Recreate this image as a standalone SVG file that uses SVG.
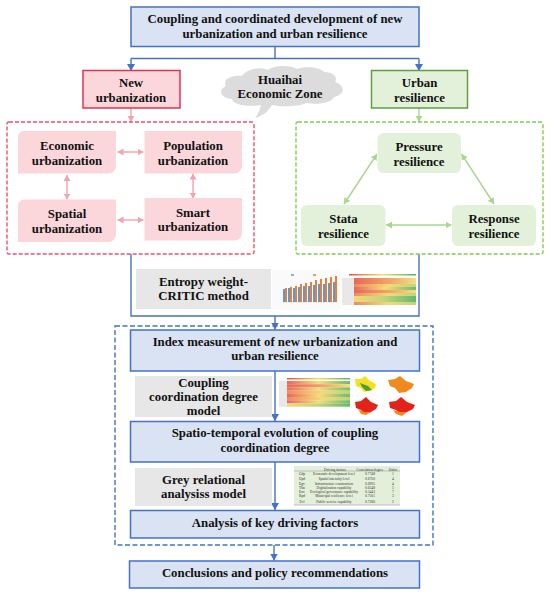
<svg xmlns="http://www.w3.org/2000/svg" width="550" height="596" viewBox="0 0 550 596">
<defs>
<marker id="ab" markerUnits="userSpaceOnUse" markerWidth="8" markerHeight="8" refX="7" refY="4" orient="auto"><path d="M0,0L7,4L0,8z" fill="#4472c4"/></marker>
<marker id="ap" markerUnits="userSpaceOnUse" markerWidth="7" markerHeight="7" refX="6" refY="3.5" orient="auto-start-reverse"><path d="M0,0L6,3.500L0,7z" fill="#f4a3ae"/></marker>
<marker id="ag" markerUnits="userSpaceOnUse" markerWidth="7" markerHeight="7" refX="6" refY="3.5" orient="auto-start-reverse"><path d="M0,0L6,3.500L0,7z" fill="#a9d78f"/></marker>
<linearGradient id="h1"><stop offset="0" stop-color="#e8685a"/><stop offset=".6" stop-color="#f0a868"/><stop offset="1" stop-color="#f5e07c"/></linearGradient>
<linearGradient id="h2"><stop offset="0" stop-color="#ee8a60"/><stop offset=".55" stop-color="#f5d87a"/><stop offset="1" stop-color="#bcd67a"/></linearGradient>
<linearGradient id="h3"><stop offset="0" stop-color="#f5d87a"/><stop offset=".5" stop-color="#bcd67a"/><stop offset="1" stop-color="#63b86c"/></linearGradient>
<linearGradient id="h4"><stop offset="0" stop-color="#e8685a"/><stop offset=".5" stop-color="#f5dc7c"/><stop offset="1" stop-color="#6fbb70"/></linearGradient>
<linearGradient id="hb"><stop offset="0" stop-color="#e8503f"/><stop offset=".5" stop-color="#f5e05c"/><stop offset="1" stop-color="#55b060"/></linearGradient>
</defs>
<style>
text{font-family:"Liberation Serif",serif;font-size:12.8px;font-weight:700;fill:#111;text-anchor:middle}
text.t{font-size:3.6px;font-weight:400;fill:#333}
.b{fill:#dae3f3;stroke:#4472c4;stroke-width:1.5}
.c{fill:none;stroke:#4472c4;stroke-width:1.4}
.g{fill:#e7e7e7}
.p{fill:#fbd7dc}
.q{fill:#e4f1da}
.cp{fill:none;stroke:#f4a3ae;stroke-width:1.4}
.cg{fill:none;stroke:#a9d78f;stroke-width:1.4}
</style>
<rect width="550" height="596" fill="#fff"/>
<g id="connectors">
<path class="c" d="M275 47V58.500M131 58.500H419"/>
<path class="c" d="M131 58.500V71" marker-end="url(#ab)"/>
<path class="c" d="M419 58.500V71" marker-end="url(#ab)"/>
<path class="c" d="M131 254V316H419V254"/>
<path class="c" d="M275 316V329.500" marker-end="url(#ab)"/>
<path class="c" d="M275 371V421" marker-end="url(#ab)"/>
<path class="c" d="M275 462V510" marker-end="url(#ab)"/>
<path class="c" d="M274 545V560.500" marker-end="url(#ab)"/>
<path class="cp" d="M131 108V122" marker-end="url(#ap)"/>
<path class="cg" d="M419 108V122" marker-end="url(#ag)"/>
<path class="cp" d="M117.500 152H143.500" marker-start="url(#ap)" marker-end="url(#ap)"/>
<path class="cp" d="M117.500 220H143.500" marker-start="url(#ap)" marker-end="url(#ap)"/>
<path class="cp" d="M67 175V199.500" marker-start="url(#ap)" marker-end="url(#ap)"/>
<path class="cp" d="M193 173.500V198.500" marker-start="url(#ap)" marker-end="url(#ap)"/>
<path class="cg" d="M377 154L344 204" marker-start="url(#ag)" marker-end="url(#ag)"/>
<path class="cg" d="M461.500 154L494 204" marker-start="url(#ag)" marker-end="url(#ag)"/>
<path class="cg" d="M386 225H451.500" marker-start="url(#ag)" marker-end="url(#ag)"/>
</g>
<g id="outer-dashed">
<rect x="7" y="122" width="247" height="132" rx="2" fill="none" stroke="#f0506c" stroke-width="1.400" stroke-dasharray="4 2"/>
<rect x="296" y="122" width="247" height="132" rx="2" fill="none" stroke="#84cc52" stroke-width="1.400" stroke-dasharray="4 2"/>
<rect x="115" y="326" width="318" height="219" fill="none" stroke="#4472c4" stroke-width="1.400" stroke-dasharray="5 2.500"/>
</g>
<g id="top"><rect class="b" x="131" y="7" width="288" height="39.500"/><text x="275" y="23">Coupling and coordinated development of new</text><text x="275" y="38">urbanization and urban resilience</text></g>
<g id="new-urbanization"><rect x="83" y="70.500" width="97" height="37.500" fill="#fbd7dc" stroke="#e0354f" stroke-width="1.500"/><text x="131" y="87">New</text><text x="131" y="102">urbanization</text></g>
<g id="urban-resilience"><rect x="371.500" y="70.500" width="96" height="37.500" fill="#e4f1da" stroke="#5f9f3e" stroke-width="1.500"/><text x="419.500" y="87">Urban</text><text x="419.500" y="102">resilience</text></g>
<g id="cloud"><path d="M255 118C258 114 260 110 261 105C246 107 233 105 232 99C221 98 217 90 226 86C222 79 232 75 242 76C247 69 260 66 268 70C274 65 291 65 297 69C305 66 320 67 324 72C334 72 338 78 335 82C346 86 345 95 334 97C332 103 317 105 307 103C297 107 281 107 272 105C268 112 262 116 255 118Z" fill="#dcdcdc"/><text x="280" y="84">Huaihai</text><text x="280" y="98">Economic Zone</text></g>
<g id="economic"><path class="p" d="M18 137a6 6 0 0 1 6-6H116V166a7.500 7.500 0 0 1 -7.500 7.500H18Z"/><text x="67" y="150">Economic</text><text x="67" y="164.500">urbanization</text></g>
<g id="population"><path class="p" d="M144.500 131H242V166a7.500 7.500 0 0 1 -7.500 7.500H144.500Z"/><text x="193" y="150">Population</text><text x="193" y="164.500">urbanization</text></g>
<g id="spatial"><path class="p" d="M18 205.500a6 6 0 0 1 6-6H116V234.500a7.500 7.500 0 0 1 -7.500 7.500H18Z"/><text x="67" y="218">Spatial</text><text x="67" y="232.500">urbanization</text></g>
<g id="smart"><path class="p" d="M144.500 198H242V233a7.500 7.500 0 0 1 -7.500 7.500H144.500Z"/><text x="193" y="216.500">Smart</text><text x="193" y="231">urbanization</text></g>
<g id="pressure"><rect class="q" x="377.500" y="133" width="83.500" height="40" rx="6"/><text x="419" y="151">Pressure</text><text x="419" y="165.500">resilience</text></g>
<g id="stata"><rect class="q" x="301" y="205" width="84.500" height="41" rx="6"/><text x="343.500" y="223">Stata</text><text x="343.500" y="237.500">resilience</text></g>
<g id="response"><rect class="q" x="452" y="205" width="84" height="41" rx="6"/><text x="494" y="223">Response</text><text x="494" y="237.500">resilience</text></g>
<g id="entropy"><rect class="g" x="136" y="269" width="135" height="40"/><text x="203.500" y="285.700">Entropy weight-</text><text x="203.500" y="300">CRITIC method</text></g>
<g id="chart1">
<rect x="272" y="270" width="68" height="40" fill="#fafafa"/>
<path d="M283 302H337" stroke="#ccc" stroke-width=".5"/>
<path d="M284 302V289M289 302V288M294 302V288M299 302V287M304 302V286M309 302V286M314 302V285M319 302V284M324 302V284M329 302V283M334 302V282" stroke="#5b9bd5" stroke-width="2"/>
<path d="M286 302V288M291 302V287M296 302V286M301 302V284M306 302V283M311 302V282M316 302V280M321 302V279M326 302V278M331 302V277M336 302V276" stroke="#ed7d31" stroke-width="2"/>
<path d="M291 275H294" stroke="#5b9bd5" stroke-width="1.500"/><path d="M313 275H316" stroke="#ed7d31" stroke-width="1.500"/>
</g>
<g id="heat1">
<rect x="349" y="274" width="67" height="1.500" fill="url(#hb)"/>
<rect x="342" y="278" width="12" height="27" fill="#e8e8e8"/>
<rect x="354" y="278" width="62" height="3.100" fill="url(#h1)"/>
<rect x="354" y="281" width="62" height="3.100" fill="url(#h1)"/>
<rect x="354" y="284" width="62" height="3.100" fill="url(#h2)"/>
<rect x="354" y="287" width="62" height="3.100" fill="url(#h4)"/>
<rect x="354" y="290" width="62" height="3.100" fill="url(#h1)"/>
<rect x="354" y="293" width="62" height="3.100" fill="url(#h2)"/>
<rect x="354" y="296" width="62" height="3.100" fill="url(#h3)"/>
<rect x="354" y="299" width="62" height="3.100" fill="url(#h3)"/>
<rect x="354" y="302" width="62" height="3" fill="url(#h2)"/>
</g>
<g id="index"><rect class="b" x="130.500" y="330" width="289" height="41"/><text x="275" y="345.700">Index measurement of new urbanization and</text><text x="275" y="360">urban resilience</text></g>
<g id="coupling"><rect class="g" x="135" y="376" width="137" height="41"/><text x="203.500" y="386.700">Coupling</text><text x="203.500" y="400.700">coordination degree</text><text x="203.500" y="415">model</text></g>
<g id="heat2">
<rect x="287" y="378" width="63" height="1.500" fill="url(#hb)"/>
<rect x="279" y="381" width="8" height="26" fill="#e8e8e8"/>
<rect x="287" y="381" width="63" height="3.300" fill="url(#h4)"/>
<rect x="287" y="384.200" width="63" height="3.300" fill="url(#h1)"/>
<rect x="287" y="387.400" width="63" height="3.300" fill="url(#h4)"/>
<rect x="287" y="390.600" width="63" height="3.300" fill="url(#h2)"/>
<rect x="287" y="393.800" width="63" height="3.300" fill="url(#h4)"/>
<rect x="287" y="397" width="63" height="3.300" fill="url(#h2)"/>
<rect x="287" y="400.200" width="63" height="3.300" fill="url(#h4)"/>
<rect x="287" y="403.400" width="63" height="3.300" fill="url(#h3)"/>
</g>
<g id="maps">
<path d="M355 379L361 379L365 376L370 381L376 384L375 388L370 391L364 392L361 388L356 386Z" fill="#f5e020"/><path d="M360 383L368 386L372 390L366 391L362 387Z" fill="#4f9e35"/>
<path d="M388 380L395 379L400 376L406 381L414 384L412 388L406 392L399 393L395 388L390 386Z" fill="#f08a1c"/>
<path d="M355 402L361 401L366 397L371 402L378 405L376 409L371 412L365 414L361 410L356 408Z" fill="#e3231b"/><path d="M358 409L364 412L371 412L366 415L361 414Z" fill="#f08a1c"/>
<path d="M389 402L396 401L401 397L407 402L415 405L413 409L407 412L400 414L396 410L390 408Z" fill="#e3231b"/><path d="M393 410L400 412L407 412L402 416L396 414Z" fill="#f08a1c"/>
</g>
<g id="spatio"><rect class="b" x="130.500" y="421.500" width="289" height="40.500"/><text x="275" y="437.300">Spatio-temporal evolution of coupling</text><text x="275" y="451.700">coordination degree</text></g>
<g id="grey"><rect class="g" x="135" y="468" width="137" height="38"/><text x="203.500" y="484.300">Grey relational</text><text x="203.500" y="498.300">analysiss model</text></g>
<g id="factors-table">
<rect x="294" y="466" width="106" height="39" fill="#e3efd9"/>
<path d="M294 471H400M294 505H400" stroke="#889" stroke-width=".5"/>
<text class="t" x="335" y="470.500">Driving factors</text><text class="t" x="370" y="470.500">Correlation degree</text><text class="t" x="393" y="470.500">Order</text>
<text class="t" x="302" y="475">Gdp</text><text class="t" x="334" y="475">Economic development level</text><text class="t" x="370" y="475">0.7748</text><text class="t" x="393" y="475">1</text>
<text class="t" x="302" y="480">Upd</text><text class="t" x="334" y="480">Spatial intensity level</text><text class="t" x="370" y="480">0.6700</text><text class="t" x="393" y="480">4</text>
<text class="t" x="302" y="485">Egv</text><text class="t" x="334" y="485">Infrastructure construction</text><text class="t" x="370" y="485">0.6905</text><text class="t" x="393" y="485">4</text>
<text class="t" x="302" y="489">Tbn</text><text class="t" x="334" y="489">Digitalization capability</text><text class="t" x="370" y="489">0.6348</text><text class="t" x="393" y="489">5</text>
<text class="t" x="302" y="493">Env</text><text class="t" x="334" y="493">Ecological governance capability</text><text class="t" x="370" y="493">0.5443</text><text class="t" x="393" y="493">7</text>
<text class="t" x="302" y="497">Rpd</text><text class="t" x="334" y="497">Municipal resilience level</text><text class="t" x="370" y="497">0.7501</text><text class="t" x="393" y="497">3</text>
<text class="t" x="302" y="503">Pol</text><text class="t" x="334" y="503">Public service capability</text><text class="t" x="370" y="503">0.7286</text><text class="t" x="393" y="503">2</text>
</g>
<g id="key"><rect class="b" x="130.500" y="510.500" width="289" height="27.500"/><text x="275" y="526.700">Analysis of key driving factors</text></g>
<g id="conclusions"><rect class="b" x="129.500" y="561" width="290" height="27"/><text x="275" y="576.700">Conclusions and policy recommendations</text></g>
</svg>
